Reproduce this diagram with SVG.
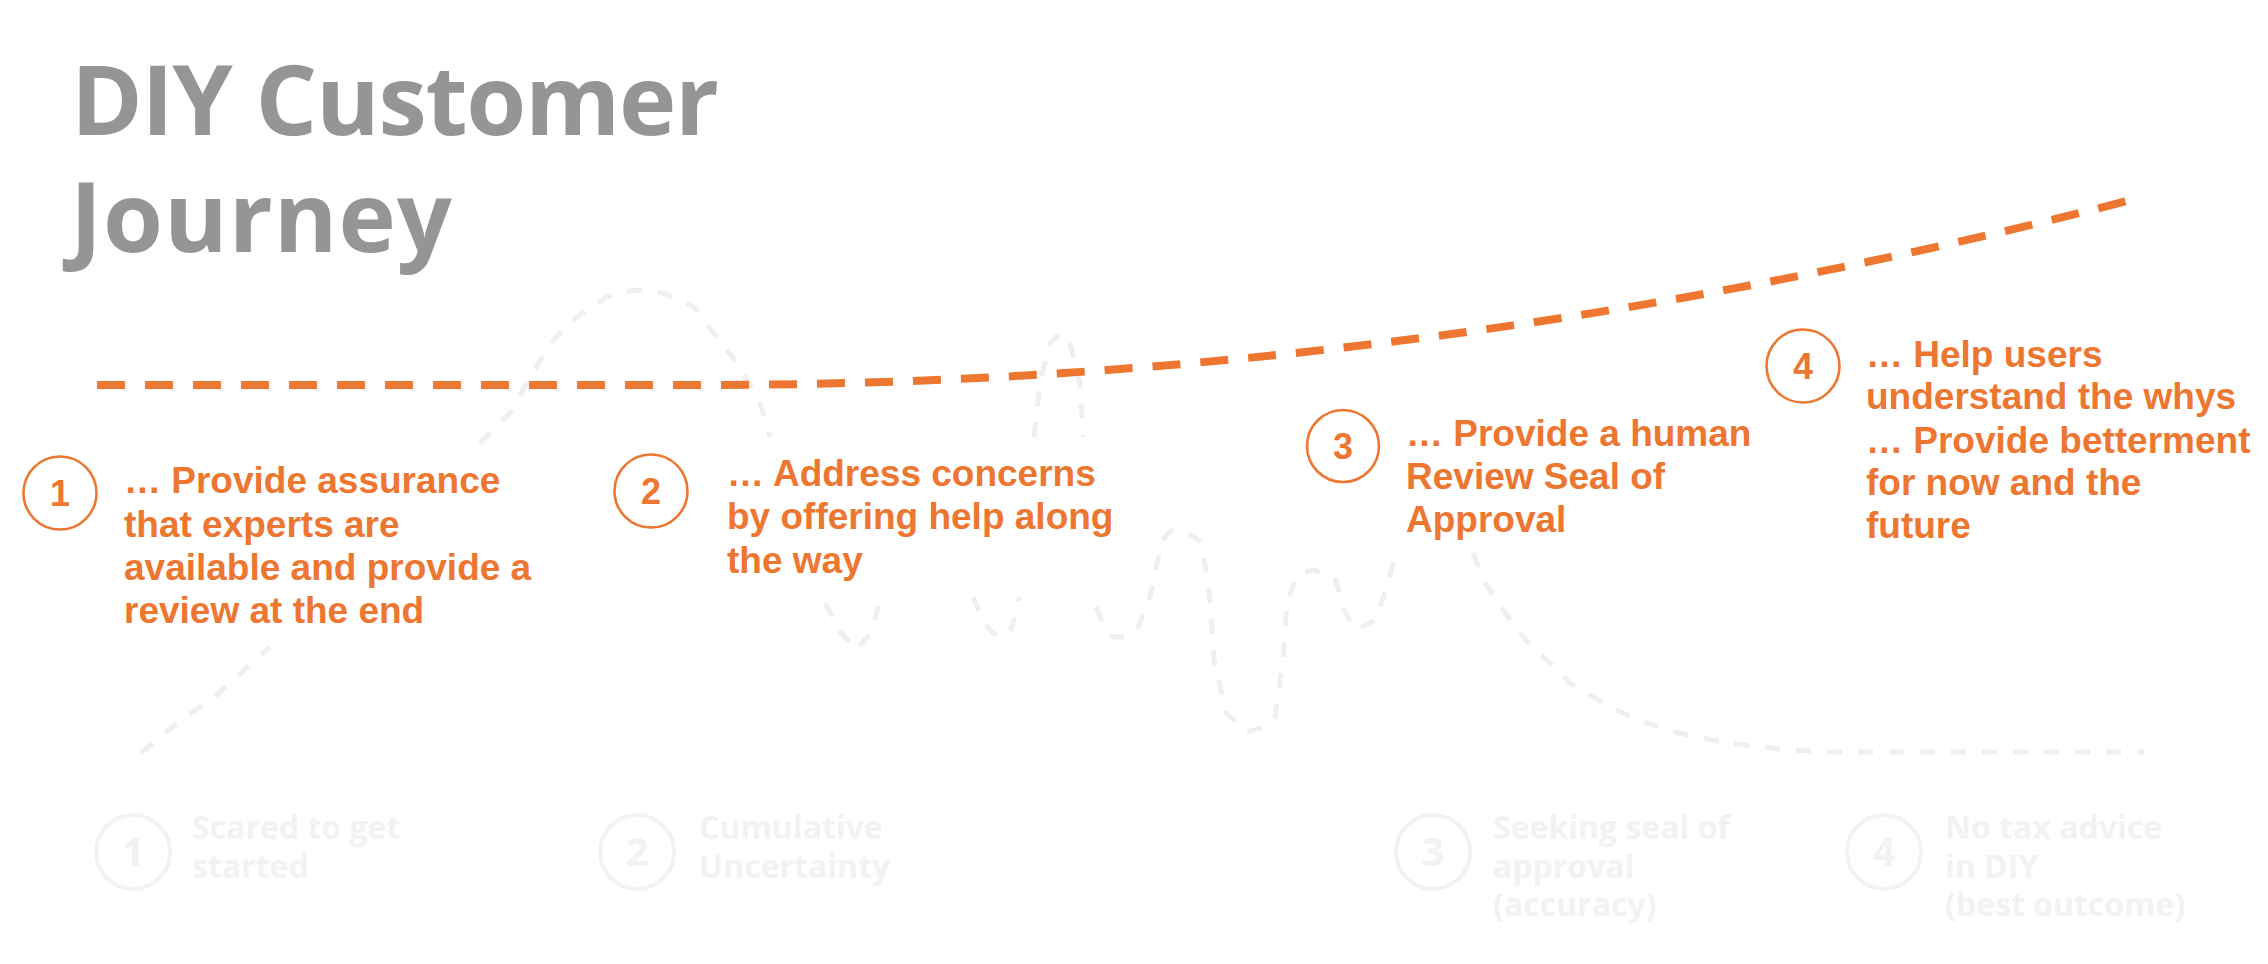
<svg xmlns="http://www.w3.org/2000/svg" width="2268" height="964" viewBox="0 0 2268 964">
<style>
.title{font-family:"Open Sans","Liberation Sans",sans-serif;font-weight:700;font-size:97px;fill:#959595}
.ghost{font-family:"Open Sans","Liberation Sans",sans-serif;font-weight:700;font-size:32px;fill:#f2f2f2}
.gnum{font-family:"Open Sans","Liberation Sans",sans-serif;font-weight:700;font-size:40px;fill:#f2f2f2;text-anchor:middle}
.gring{fill:none;stroke:#f2f2f2;stroke-width:4}
.gpath{fill:none;stroke:#efefef;stroke-width:5;stroke-dasharray:15 16;stroke-linejoin:round}
.ring{fill:none;stroke:#ED7631;stroke-width:2.6}
.num{font-family:"Liberation Sans",Arial,sans-serif;font-weight:700;font-size:36px;fill:#ED7631;text-anchor:middle}
.note{font-family:"Liberation Sans",Arial,sans-serif;font-weight:700;font-size:37px;fill:#ED7631}
.journey{fill:none;stroke:#ED7631;stroke-width:8;stroke-dasharray:28 20}
</style>
<rect width="2268" height="964" fill="#ffffff"/>

<g id="title">
<text class="title" x="71" y="135" textLength="648">DIY Customer</text>
<text class="title" x="70" y="252" textLength="382">Journey</text>
</g>

<g id="connectors">
<g id="ghost-curve">
<polyline class="gpath" points="141,753 175,725 214,697 270,647"/>
<polyline class="gpath" points="480,443 510,413 536,367 556,337 577,317 607,297 635,290 663,293 694,307 719,340 740,367 760,403 770,437"/>
<polyline class="gpath" points="825,603 841,633 856,650 871,633 881,597"/>
<polyline class="gpath" points="973,597 985,625 999,638 1012,628 1019,597"/>
<polyline class="gpath" points="1034,437 1040,383 1050,343 1060,333 1070,343 1080,383 1083,437"/>
<polyline class="gpath" points="1096,607 1104,627 1113,637 1128,636 1137,630 1150,597 1162,540 1172,530 1186,532 1202,543 1210,600 1214,660 1226,713 1247,732 1265,727 1275,717 1283,660 1287,600 1299,573 1315,570 1336,580 1344,610 1356,630 1376,620 1388,583 1396,550"/>
<polyline class="gpath" points="1473,553 1485,583 1505,613 1526,640 1550,663 1570,683 1598,700 1623,713 1647,723 1679,733 1712,740 1744,745 1793,750 1825,752 2144,752"/>
</g>
<path id="journey-line" class="journey" d="M97,385 L700,385 Q1415.5,385 2131,200"/>
</g>

<g id="ghost-step-1">
<circle class="gring" cx="133" cy="852" r="37"/>
<text class="gnum" x="133" y="866">1</text>
<text class="ghost" x="192" y="839">Scared to get</text>
<text class="ghost" x="192" y="878">started</text>
</g>
<g id="ghost-step-2">
<circle class="gring" cx="637" cy="852" r="37"/>
<text class="gnum" x="637" y="866">2</text>
<text class="ghost" x="699" y="839">Cumulative</text>
<text class="ghost" x="699" y="878">Uncertainty</text>
</g>
<g id="ghost-step-3">
<circle class="gring" cx="1433" cy="852" r="37"/>
<text class="gnum" x="1433" y="866">3</text>
<text class="ghost" x="1493" y="839">Seeking seal of</text>
<text class="ghost" x="1493" y="878">approval</text>
<text class="ghost" x="1493" y="916">(accuracy)</text>
</g>
<g id="ghost-step-4">
<circle class="gring" cx="1884" cy="852" r="37"/>
<text class="gnum" x="1884" y="866">4</text>
<text class="ghost" x="1945" y="839">No tax advice</text>
<text class="ghost" x="1945" y="878">in DIY</text>
<text class="ghost" x="1945" y="916">(best outcome)</text>
</g>

<g id="step-1">
<circle class="ring" cx="60" cy="493" r="36.5"/>
<text class="num" x="60" y="506">1</text>
<text class="note" x="124" y="493">… Provide assurance</text>
<text class="note" x="124" y="537">that experts are</text>
<text class="note" x="124" y="580">available and provide a</text>
<text class="note" x="124" y="623">review at the end</text>
</g>
<g id="step-2">
<circle class="ring" cx="651" cy="491" r="36.5"/>
<text class="num" x="651" y="504">2</text>
<text class="note" x="727" y="486">… Address concerns</text>
<text class="note" x="727" y="529">by offering help along</text>
<text class="note" x="727" y="573">the way</text>
</g>
<g id="step-3">
<circle class="ring" cx="1343" cy="446" r="36"/>
<text class="num" x="1343" y="459">3</text>
<text class="note" x="1406" y="446">… Provide a human</text>
<text class="note" x="1406" y="489">Review Seal of</text>
<text class="note" x="1406" y="532">Approval</text>
</g>
<g id="step-4">
<circle class="ring" cx="1803" cy="366" r="36.5"/>
<text class="num" x="1803" y="379">4</text>
<text class="note" x="1866" y="367">… Help users</text>
<text class="note" x="1866" y="409">understand the whys</text>
<text class="note" x="1866" y="453">… Provide betterment</text>
<text class="note" x="1866" y="495">for now and the</text>
<text class="note" x="1866" y="538">future</text>
</g>
</svg>
